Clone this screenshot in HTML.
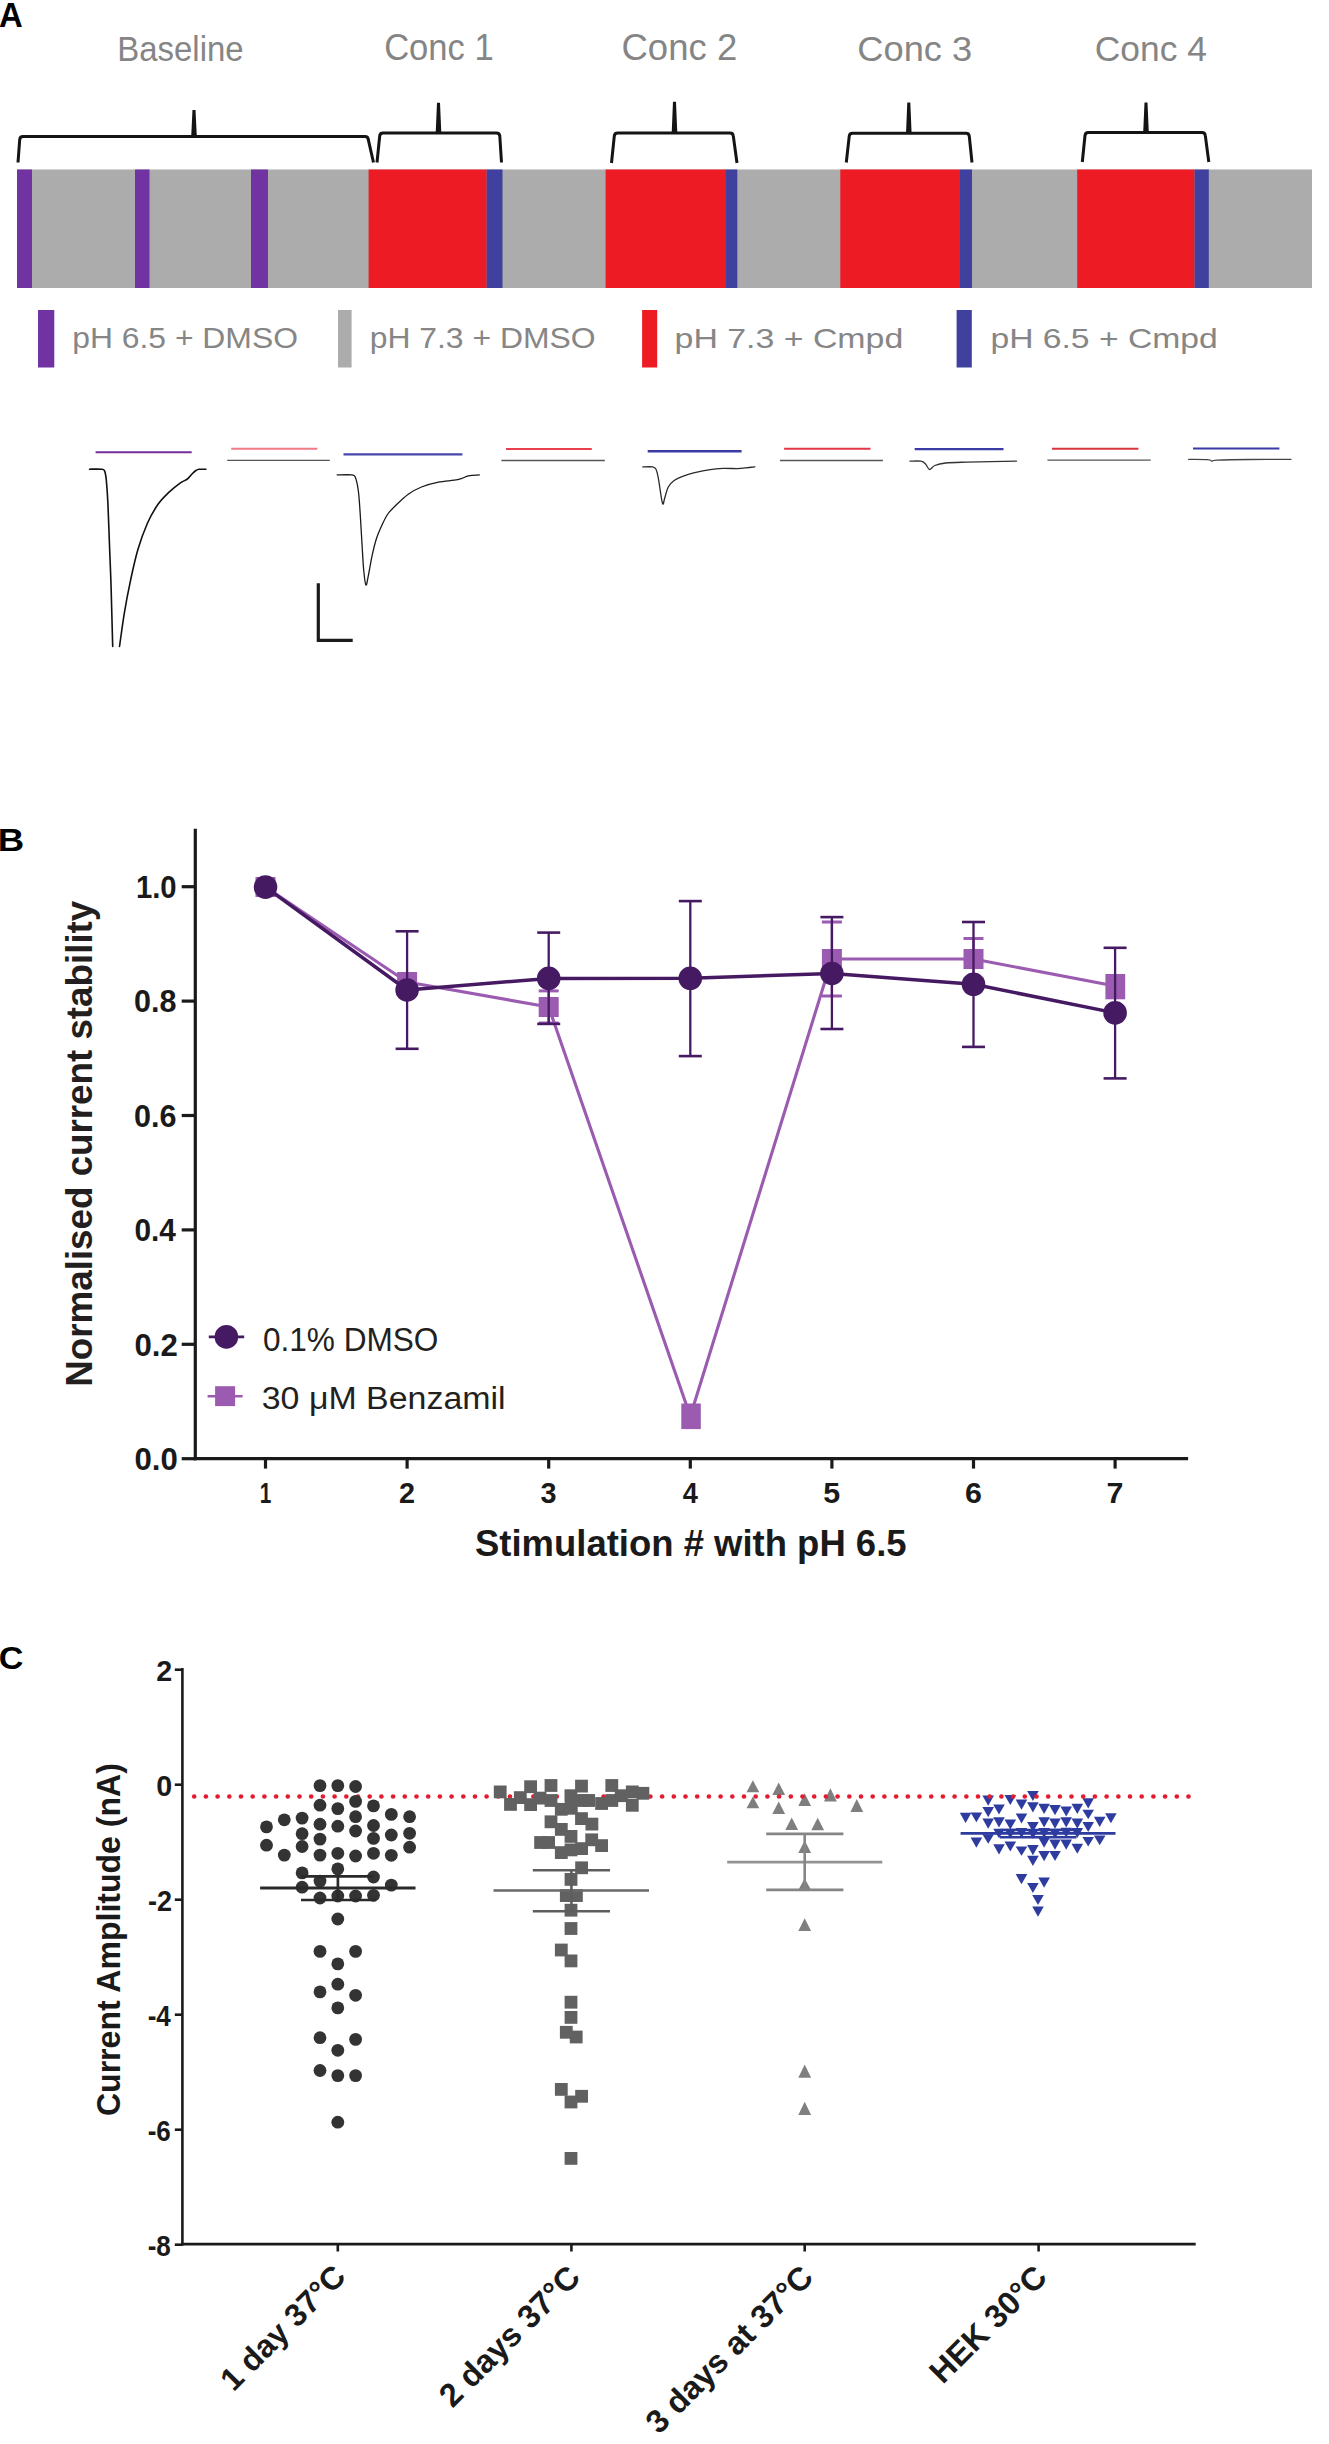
<!DOCTYPE html>
<html><head><meta charset="utf-8"><title>Figure</title>
<style>
html,body{margin:0;padding:0;background:#fff;}
body{width:1329px;height:2444px;overflow:hidden;font-family:"Liberation Sans", sans-serif;}
svg{display:block;font-family:"Liberation Sans", sans-serif;}
</style></head>
<body>
<svg width="1329" height="2444" viewBox="0 0 1329 2444">
<rect width="1329" height="2444" fill="#fff"/>
<path d="M18,162.5 L19.7,139.6 Q20,136.6 23,136.6 L365,136.6 Q368,136.6 368.3,139.6 L373.5,162.5" fill="none" stroke="#141414" stroke-width="3.0" stroke-linejoin="round"/>
<path d="M191.2,136.6 L192.5,110 L195.5,110 L196.8,136.6 Z" fill="#141414"/>
<path d="M377,162.5 L379.7,136 Q380,133 383,133 L496.5,133 Q499.5,133 499.8,136 L501.5,162.5" fill="none" stroke="#141414" stroke-width="3.0" stroke-linejoin="round"/>
<path d="M435.7,133 L437.0,102.8 L440.0,102.8 L441.3,133 Z" fill="#141414"/>
<path d="M611.5,163 L614.3000000000001,136 Q614.6,133 617.6,133 L730,133 Q733,133 733.3,136 L737,163" fill="none" stroke="#141414" stroke-width="3.0" stroke-linejoin="round"/>
<path d="M671.7,133 L673.0,101.8 L676.0,101.8 L677.3,133 Z" fill="#141414"/>
<path d="M846.3,162.5 L849.2,136.3 Q849.5,133.3 852.5,133.3 L966,133.3 Q969,133.3 969.3,136.3 L972,162.5" fill="none" stroke="#141414" stroke-width="3.0" stroke-linejoin="round"/>
<path d="M906.0,133.3 L907.3,102.5 L910.3,102.5 L911.5999999999999,133.3 Z" fill="#141414"/>
<path d="M1082.3,162 L1085.0,135.5 Q1085.3,132.5 1088.3,132.5 L1202,132.5 Q1205,132.5 1205.3,135.5 L1208.8,162" fill="none" stroke="#141414" stroke-width="3.0" stroke-linejoin="round"/>
<path d="M1143.2,132.5 L1144.5,102.5 L1147.5,102.5 L1148.8,132.5 Z" fill="#141414"/>
<rect x="17.0" y="169.5" width="1295.0" height="118.5" fill="#acacac"/>
<rect x="17.0" y="169.5" width="15.0" height="118.5" fill="#7233a2"/>
<rect x="135.0" y="169.5" width="14.5" height="118.5" fill="#7233a2"/>
<rect x="251.0" y="169.5" width="17.0" height="118.5" fill="#7233a2"/>
<rect x="368.6" y="169.5" width="118.1" height="118.5" fill="#ed1c24"/>
<rect x="486.7" y="169.5" width="15.8" height="118.5" fill="#40409f"/>
<rect x="605.6" y="169.5" width="119.6" height="118.5" fill="#ed1c24"/>
<rect x="725.2" y="169.5" width="12.1" height="118.5" fill="#40409f"/>
<rect x="840.3" y="169.5" width="118.9" height="118.5" fill="#ed1c24"/>
<rect x="959.2" y="169.5" width="12.8" height="118.5" fill="#40409f"/>
<rect x="1077.2" y="169.5" width="117.4" height="118.5" fill="#ed1c24"/>
<rect x="1194.6" y="169.5" width="14.2" height="118.5" fill="#40409f"/>
<rect x="38.0" y="310.0" width="16.3" height="57.5" fill="#7233a2"/>
<rect x="338.0" y="310.0" width="13.6" height="57.5" fill="#acacac"/>
<rect x="642.1" y="310.0" width="15.1" height="57.5" fill="#ed1c24"/>
<rect x="956.6" y="310.0" width="15.2" height="57.5" fill="#40409f"/>
<line x1="95.6" y1="452.3" x2="191.7" y2="452.3" stroke="#742da0" stroke-width="2.0" stroke-linecap="butt"/>
<line x1="231.2" y1="448.8" x2="317.3" y2="448.8" stroke="#f07a86" stroke-width="2.0" stroke-linecap="butt"/>
<line x1="227.2" y1="460.4" x2="329.8" y2="460.4" stroke="#555" stroke-width="1.3" stroke-linecap="butt"/>
<line x1="343.5" y1="454.4" x2="462.4" y2="454.4" stroke="#4646aa" stroke-width="2.4" stroke-linecap="butt"/>
<line x1="506.0" y1="449.1" x2="591.8" y2="449.1" stroke="#e8414d" stroke-width="2.0" stroke-linecap="butt"/>
<line x1="501.4" y1="460.5" x2="604.8" y2="460.5" stroke="#555" stroke-width="1.3" stroke-linecap="butt"/>
<line x1="647.7" y1="451.2" x2="741.6" y2="451.2" stroke="#3a3aa5" stroke-width="2.4" stroke-linecap="butt"/>
<line x1="784.1" y1="448.8" x2="870.5" y2="448.8" stroke="#e33545" stroke-width="2.0" stroke-linecap="butt"/>
<line x1="780.0" y1="460.5" x2="882.9" y2="460.5" stroke="#555" stroke-width="1.3" stroke-linecap="butt"/>
<line x1="914.7" y1="449.1" x2="1003.5" y2="449.1" stroke="#3a3aa5" stroke-width="2.2" stroke-linecap="butt"/>
<line x1="1052.0" y1="448.8" x2="1138.4" y2="448.8" stroke="#d8343f" stroke-width="2.0" stroke-linecap="butt"/>
<line x1="1047.4" y1="460.2" x2="1150.7" y2="460.2" stroke="#555" stroke-width="1.3" stroke-linecap="butt"/>
<line x1="1193.0" y1="448.5" x2="1279.4" y2="448.5" stroke="#3a3aa5" stroke-width="2.2" stroke-linecap="butt"/>
<path d="M89.5,469.2 C91.6,469.2 99.5,468.9 102.1,469.3 C104.6,469.7 104.1,469.8 104.8,471.6 C105.5,473.4 105.8,474.7 106.3,480.0 C106.8,485.3 107.4,492.3 107.9,503.2 C108.4,514.1 109.0,531.2 109.5,545.3 C110.0,559.3 110.6,570.6 111.1,587.5 C111.6,604.4 112.4,636.7 112.7,646.5" fill="none" stroke="#111" stroke-width="1.6" stroke-linejoin="round" stroke-linecap="round"/>
<path d="M119.5,646.5 C120.3,641.0 122.4,624.9 124.2,613.8 C126.0,602.7 128.3,590.8 130.6,580.1 C132.9,569.4 135.1,559.1 137.9,549.6 C140.7,540.1 144.1,530.8 147.4,523.2 C150.8,515.7 154.5,509.4 158.0,504.3 C161.5,499.2 164.8,496.2 168.5,492.7 C172.2,489.2 176.9,485.5 180.1,483.2 C183.2,480.9 185.4,480.5 187.4,479.0 C189.4,477.5 190.6,475.4 192.0,474.0 C193.4,472.6 194.7,471.3 195.9,470.5 C197.1,469.7 197.3,469.5 199.0,469.3 C200.7,469.1 204.8,469.2 205.9,469.2" fill="none" stroke="#111" stroke-width="1.6" stroke-linejoin="round" stroke-linecap="round"/>
<path d="M337.2,474.9 C339.6,474.9 348.7,474.5 351.7,474.9 C354.7,475.3 354.2,474.7 355.3,477.3 C356.4,479.9 357.5,484.8 358.3,490.6 C359.1,496.4 359.5,503.6 360.1,512.2 C360.7,520.8 361.3,532.7 361.9,542.3 C362.5,551.9 363.0,562.9 363.7,570.0 C364.4,577.1 365.1,584.3 365.9,585.1 C366.7,585.9 367.5,579.7 368.5,574.8 C369.5,569.9 370.8,561.6 372.1,555.6 C373.4,549.6 374.8,543.7 376.4,538.7 C378.0,533.7 379.9,529.6 381.8,525.5 C383.7,521.4 385.4,517.4 387.8,514.0 C390.2,510.6 392.8,508.3 396.2,505.0 C399.6,501.7 404.1,497.2 408.3,494.2 C412.5,491.2 416.5,489.0 421.5,487.0 C426.5,485.0 432.4,483.3 438.4,482.1 C444.4,480.9 452.6,480.7 457.6,479.7 C462.6,478.7 464.9,476.7 468.5,475.9 C472.1,475.1 477.5,475.1 479.3,474.9" fill="none" stroke="#1a1a1a" stroke-width="1.3" stroke-linejoin="round" stroke-linecap="round"/>
<path d="M642.8,466.9 C644.4,466.9 650.4,466.5 652.6,466.9 C654.8,467.3 655.0,467.3 656.0,469.3 C657.0,471.3 657.7,474.9 658.5,479.1 C659.3,483.4 660.2,490.6 660.9,494.8 C661.6,499.0 662.2,503.6 662.9,504.1 C663.5,504.6 663.9,500.6 664.8,497.7 C665.7,494.8 666.8,489.9 668.3,487.0 C669.8,484.1 671.8,482.3 674.1,480.6 C676.4,478.9 678.7,478.0 682.0,476.7 C685.3,475.4 689.3,473.9 693.7,472.8 C698.1,471.7 703.5,470.5 708.4,469.8 C713.3,469.1 718.1,468.6 723.0,468.4 C727.9,468.2 734.0,468.7 737.7,468.6 C741.5,468.5 742.6,468.2 745.5,467.9 C748.4,467.6 753.2,467.1 754.8,466.9" fill="none" stroke="#2a2a2a" stroke-width="1.3" stroke-linejoin="round" stroke-linecap="round"/>
<path d="M910.0,461.2 C911.8,461.2 918.3,460.7 920.9,461.2 C923.5,461.7 924.1,462.6 925.5,464.0 C926.9,465.4 928.0,469.2 929.5,469.5 C931.0,469.8 932.1,466.6 934.8,465.5 C937.5,464.4 940.2,463.6 945.6,463.0 C951.0,462.4 955.4,462.4 967.2,462.1 C979.0,461.8 1008.3,461.4 1016.5,461.2" fill="none" stroke="#333" stroke-width="1.3" stroke-linejoin="round" stroke-linecap="round"/>
<path d="M1188.6,459.3 C1191.8,459.4 1203.9,459.3 1207.8,459.6 C1211.7,459.9 1210.4,461.1 1211.9,461.2 C1213.4,461.3 1210.7,460.5 1217.0,460.2 C1223.3,459.9 1237.7,459.6 1250.0,459.5 C1262.3,459.4 1284.2,459.3 1291.0,459.3" fill="none" stroke="#444" stroke-width="1.3" stroke-linejoin="round" stroke-linecap="round"/>
<path d="M318.3,583.2 L318.3,640.3 L352.7,640.3" fill="none" stroke="#1a1a1a" stroke-width="3.2"/>
<line x1="195.3" y1="828.7" x2="195.3" y2="1460.3" stroke="#1a1a1a" stroke-width="3.2" stroke-linecap="butt"/>
<line x1="193.7" y1="1458.7" x2="1188.1" y2="1458.7" stroke="#1a1a1a" stroke-width="3.2" stroke-linecap="butt"/>
<line x1="181.7" y1="1458.7" x2="195.3" y2="1458.7" stroke="#1a1a1a" stroke-width="3.2" stroke-linecap="butt"/>
<line x1="181.7" y1="1344.3" x2="195.3" y2="1344.3" stroke="#1a1a1a" stroke-width="3.2" stroke-linecap="butt"/>
<line x1="181.7" y1="1229.9" x2="195.3" y2="1229.9" stroke="#1a1a1a" stroke-width="3.2" stroke-linecap="butt"/>
<line x1="181.7" y1="1115.5" x2="195.3" y2="1115.5" stroke="#1a1a1a" stroke-width="3.2" stroke-linecap="butt"/>
<line x1="181.7" y1="1001.1" x2="195.3" y2="1001.1" stroke="#1a1a1a" stroke-width="3.2" stroke-linecap="butt"/>
<line x1="181.7" y1="886.7" x2="195.3" y2="886.7" stroke="#1a1a1a" stroke-width="3.2" stroke-linecap="butt"/>
<line x1="265.5" y1="1458.7" x2="265.5" y2="1468.6" stroke="#1a1a1a" stroke-width="3.2" stroke-linecap="butt"/>
<line x1="407.1" y1="1458.7" x2="407.1" y2="1468.6" stroke="#1a1a1a" stroke-width="3.2" stroke-linecap="butt"/>
<line x1="548.7" y1="1458.7" x2="548.7" y2="1468.6" stroke="#1a1a1a" stroke-width="3.2" stroke-linecap="butt"/>
<line x1="690.3" y1="1458.7" x2="690.3" y2="1468.6" stroke="#1a1a1a" stroke-width="3.2" stroke-linecap="butt"/>
<line x1="831.9" y1="1458.7" x2="831.9" y2="1468.6" stroke="#1a1a1a" stroke-width="3.2" stroke-linecap="butt"/>
<line x1="973.5" y1="1458.7" x2="973.5" y2="1468.6" stroke="#1a1a1a" stroke-width="3.2" stroke-linecap="butt"/>
<line x1="1115.1" y1="1458.7" x2="1115.1" y2="1468.6" stroke="#1a1a1a" stroke-width="3.2" stroke-linecap="butt"/>
<path d="M265.5,887.0 L407.1,982.0 L548.7,1007.0 L690.3,1416.3 L831.9,959.0 L973.5,959.0 L1115.1,986.0" fill="none" stroke="#9b5bb0" stroke-width="3.1" stroke-linejoin="round" stroke-linecap="round"/>
<line x1="548.7" y1="990.9" x2="548.7" y2="1023.0" stroke="#9b5bb0" stroke-width="2.4" stroke-linecap="butt"/>
<line x1="538.7" y1="990.9" x2="558.7" y2="990.9" stroke="#9b5bb0" stroke-width="3" stroke-linecap="butt"/>
<line x1="538.7" y1="1023.0" x2="558.7" y2="1023.0" stroke="#9b5bb0" stroke-width="3" stroke-linecap="butt"/>
<line x1="831.9" y1="922.0" x2="831.9" y2="996.0" stroke="#9b5bb0" stroke-width="2.4" stroke-linecap="butt"/>
<line x1="821.9" y1="922.0" x2="841.9" y2="922.0" stroke="#9b5bb0" stroke-width="3" stroke-linecap="butt"/>
<line x1="821.9" y1="996.0" x2="841.9" y2="996.0" stroke="#9b5bb0" stroke-width="3" stroke-linecap="butt"/>
<line x1="973.5" y1="938.5" x2="973.5" y2="979.0" stroke="#9b5bb0" stroke-width="2.4" stroke-linecap="butt"/>
<line x1="963.5" y1="938.5" x2="983.5" y2="938.5" stroke="#9b5bb0" stroke-width="3" stroke-linecap="butt"/>
<line x1="963.5" y1="979.0" x2="983.5" y2="979.0" stroke="#9b5bb0" stroke-width="3" stroke-linecap="butt"/>
<rect x="255.5" y="877.0" width="20.0" height="20.0" fill="#9b5bb0"/>
<rect x="397.1" y="972.0" width="20.0" height="20.0" fill="#9b5bb0"/>
<rect x="538.7" y="997.0" width="20.0" height="20.0" fill="#9b5bb0"/>
<rect x="681.3" y="1403.5" width="19.5" height="25.6" fill="#9b5bb0"/>
<rect x="821.9" y="949.0" width="20.0" height="20.0" fill="#9b5bb0"/>
<rect x="963.5" y="949.0" width="20.0" height="20.0" fill="#9b5bb0"/>
<rect x="1105.4" y="974.0" width="19.8" height="25.3" fill="#9b5bb0"/>
<path d="M265.5,887.1 L407.1,990.0 L548.7,978.4 L690.3,978.3 L831.9,973.5 L973.5,984.3 L1115.1,1012.9" fill="none" stroke="#461a63" stroke-width="3.5" stroke-linejoin="round" stroke-linecap="round"/>
<line x1="407.1" y1="931.3" x2="407.1" y2="1048.8" stroke="#461a63" stroke-width="2.3" stroke-linecap="butt"/>
<line x1="395.6" y1="931.3" x2="418.6" y2="931.3" stroke="#461a63" stroke-width="2.6" stroke-linecap="butt"/>
<line x1="395.6" y1="1048.8" x2="418.6" y2="1048.8" stroke="#461a63" stroke-width="2.6" stroke-linecap="butt"/>
<line x1="548.7" y1="932.6" x2="548.7" y2="1023.9" stroke="#461a63" stroke-width="2.3" stroke-linecap="butt"/>
<line x1="537.2" y1="932.6" x2="560.2" y2="932.6" stroke="#461a63" stroke-width="2.6" stroke-linecap="butt"/>
<line x1="537.2" y1="1023.9" x2="560.2" y2="1023.9" stroke="#461a63" stroke-width="2.6" stroke-linecap="butt"/>
<line x1="690.3" y1="901.1" x2="690.3" y2="1056.1" stroke="#461a63" stroke-width="2.3" stroke-linecap="butt"/>
<line x1="678.8" y1="901.1" x2="701.8" y2="901.1" stroke="#461a63" stroke-width="2.6" stroke-linecap="butt"/>
<line x1="678.8" y1="1056.1" x2="701.8" y2="1056.1" stroke="#461a63" stroke-width="2.6" stroke-linecap="butt"/>
<line x1="831.9" y1="917.1" x2="831.9" y2="1029.0" stroke="#461a63" stroke-width="2.3" stroke-linecap="butt"/>
<line x1="820.4" y1="917.1" x2="843.4" y2="917.1" stroke="#461a63" stroke-width="2.6" stroke-linecap="butt"/>
<line x1="820.4" y1="1029.0" x2="843.4" y2="1029.0" stroke="#461a63" stroke-width="2.6" stroke-linecap="butt"/>
<line x1="973.5" y1="922.0" x2="973.5" y2="1046.9" stroke="#461a63" stroke-width="2.3" stroke-linecap="butt"/>
<line x1="962.0" y1="922.0" x2="985.0" y2="922.0" stroke="#461a63" stroke-width="2.6" stroke-linecap="butt"/>
<line x1="962.0" y1="1046.9" x2="985.0" y2="1046.9" stroke="#461a63" stroke-width="2.6" stroke-linecap="butt"/>
<line x1="1115.1" y1="947.8" x2="1115.1" y2="1078.4" stroke="#461a63" stroke-width="2.3" stroke-linecap="butt"/>
<line x1="1103.6" y1="947.8" x2="1126.6" y2="947.8" stroke="#461a63" stroke-width="2.6" stroke-linecap="butt"/>
<line x1="1103.6" y1="1078.4" x2="1126.6" y2="1078.4" stroke="#461a63" stroke-width="2.6" stroke-linecap="butt"/>
<circle cx="265.5" cy="887.1" r="11.8" fill="#461a63"/>
<circle cx="407.1" cy="990.0" r="11.8" fill="#461a63"/>
<circle cx="548.7" cy="978.4" r="11.8" fill="#461a63"/>
<circle cx="690.3" cy="978.3" r="11.8" fill="#461a63"/>
<circle cx="831.9" cy="973.5" r="11.8" fill="#461a63"/>
<circle cx="973.5" cy="984.3" r="11.8" fill="#461a63"/>
<circle cx="1115.1" cy="1012.9" r="11.8" fill="#461a63"/>
<line x1="208.8" y1="1336.9" x2="244.2" y2="1336.9" stroke="#461a63" stroke-width="2.6" stroke-linecap="butt"/>
<circle cx="226.4" cy="1336.9" r="11.8" fill="#461a63"/>
<line x1="207.6" y1="1396.2" x2="242.6" y2="1396.2" stroke="#9b5bb0" stroke-width="2.6" stroke-linecap="butt"/>
<rect x="215.1" y="1386.2" width="20.0" height="19.9" fill="#9b5bb0"/>
<line x1="182.4" y1="1668.0" x2="182.4" y2="2245.4" stroke="#1a1a1a" stroke-width="2.6" stroke-linecap="butt"/>
<line x1="181.1" y1="2244.1" x2="1195.7" y2="2244.1" stroke="#1a1a1a" stroke-width="2.6" stroke-linecap="butt"/>
<line x1="174.8" y1="1669.7" x2="182.4" y2="1669.7" stroke="#1a1a1a" stroke-width="2.6" stroke-linecap="butt"/>
<line x1="174.8" y1="1784.7" x2="182.4" y2="1784.7" stroke="#1a1a1a" stroke-width="2.6" stroke-linecap="butt"/>
<line x1="174.8" y1="1899.7" x2="182.4" y2="1899.7" stroke="#1a1a1a" stroke-width="2.6" stroke-linecap="butt"/>
<line x1="174.8" y1="2014.7" x2="182.4" y2="2014.7" stroke="#1a1a1a" stroke-width="2.6" stroke-linecap="butt"/>
<line x1="174.8" y1="2129.7" x2="182.4" y2="2129.7" stroke="#1a1a1a" stroke-width="2.6" stroke-linecap="butt"/>
<line x1="174.8" y1="2244.7" x2="182.4" y2="2244.7" stroke="#1a1a1a" stroke-width="2.6" stroke-linecap="butt"/>
<line x1="337.8" y1="2244.1" x2="337.8" y2="2251.5" stroke="#1a1a1a" stroke-width="2.6" stroke-linecap="butt"/>
<line x1="571.4" y1="2244.1" x2="571.4" y2="2251.5" stroke="#1a1a1a" stroke-width="2.6" stroke-linecap="butt"/>
<line x1="804.7" y1="2244.1" x2="804.7" y2="2251.5" stroke="#1a1a1a" stroke-width="2.6" stroke-linecap="butt"/>
<line x1="1038.6" y1="2244.1" x2="1038.6" y2="2251.5" stroke="#1a1a1a" stroke-width="2.6" stroke-linecap="butt"/>
<circle cx="194.2" cy="1796.5" r="2.3" fill="#e41b2f"/>
<circle cx="205.9" cy="1796.5" r="2.3" fill="#e41b2f"/>
<circle cx="217.6" cy="1796.5" r="2.3" fill="#e41b2f"/>
<circle cx="229.3" cy="1796.5" r="2.3" fill="#e41b2f"/>
<circle cx="241.0" cy="1796.5" r="2.3" fill="#e41b2f"/>
<circle cx="252.7" cy="1796.5" r="2.3" fill="#e41b2f"/>
<circle cx="264.4" cy="1796.5" r="2.3" fill="#e41b2f"/>
<circle cx="276.1" cy="1796.5" r="2.3" fill="#e41b2f"/>
<circle cx="287.8" cy="1796.5" r="2.3" fill="#e41b2f"/>
<circle cx="299.5" cy="1796.5" r="2.3" fill="#e41b2f"/>
<circle cx="311.2" cy="1796.5" r="2.3" fill="#e41b2f"/>
<circle cx="322.9" cy="1796.5" r="2.3" fill="#e41b2f"/>
<circle cx="334.6" cy="1796.5" r="2.3" fill="#e41b2f"/>
<circle cx="346.3" cy="1796.5" r="2.3" fill="#e41b2f"/>
<circle cx="358.0" cy="1796.5" r="2.3" fill="#e41b2f"/>
<circle cx="369.7" cy="1796.5" r="2.3" fill="#e41b2f"/>
<circle cx="381.4" cy="1796.5" r="2.3" fill="#e41b2f"/>
<circle cx="393.1" cy="1796.5" r="2.3" fill="#e41b2f"/>
<circle cx="404.8" cy="1796.5" r="2.3" fill="#e41b2f"/>
<circle cx="416.5" cy="1796.5" r="2.3" fill="#e41b2f"/>
<circle cx="428.2" cy="1796.5" r="2.3" fill="#e41b2f"/>
<circle cx="439.9" cy="1796.5" r="2.3" fill="#e41b2f"/>
<circle cx="451.6" cy="1796.5" r="2.3" fill="#e41b2f"/>
<circle cx="463.3" cy="1796.5" r="2.3" fill="#e41b2f"/>
<circle cx="475.0" cy="1796.5" r="2.3" fill="#e41b2f"/>
<circle cx="486.6" cy="1796.5" r="2.3" fill="#e41b2f"/>
<circle cx="498.3" cy="1796.5" r="2.3" fill="#e41b2f"/>
<circle cx="510.0" cy="1796.5" r="2.3" fill="#e41b2f"/>
<circle cx="521.7" cy="1796.5" r="2.3" fill="#e41b2f"/>
<circle cx="533.4" cy="1796.5" r="2.3" fill="#e41b2f"/>
<circle cx="545.1" cy="1796.5" r="2.3" fill="#e41b2f"/>
<circle cx="556.8" cy="1796.5" r="2.3" fill="#e41b2f"/>
<circle cx="568.5" cy="1796.5" r="2.3" fill="#e41b2f"/>
<circle cx="580.2" cy="1796.5" r="2.3" fill="#e41b2f"/>
<circle cx="591.9" cy="1796.5" r="2.3" fill="#e41b2f"/>
<circle cx="603.6" cy="1796.5" r="2.3" fill="#e41b2f"/>
<circle cx="615.3" cy="1796.5" r="2.3" fill="#e41b2f"/>
<circle cx="627.0" cy="1796.5" r="2.3" fill="#e41b2f"/>
<circle cx="638.7" cy="1796.5" r="2.3" fill="#e41b2f"/>
<circle cx="650.4" cy="1796.5" r="2.3" fill="#e41b2f"/>
<circle cx="662.1" cy="1796.5" r="2.3" fill="#e41b2f"/>
<circle cx="673.8" cy="1796.5" r="2.3" fill="#e41b2f"/>
<circle cx="685.5" cy="1796.5" r="2.3" fill="#e41b2f"/>
<circle cx="266.5" cy="1826.9" r="6.4" fill="#333333"/>
<circle cx="266.5" cy="1845.2" r="6.4" fill="#333333"/>
<circle cx="284.3" cy="1819.8" r="6.4" fill="#333333"/>
<circle cx="284.3" cy="1855.1" r="6.4" fill="#333333"/>
<circle cx="302.1" cy="1818.1" r="6.4" fill="#333333"/>
<circle cx="302.1" cy="1833.7" r="6.4" fill="#333333"/>
<circle cx="302.1" cy="1846.5" r="6.4" fill="#333333"/>
<circle cx="302.1" cy="1872.9" r="6.4" fill="#333333"/>
<circle cx="302.1" cy="1887.2" r="6.4" fill="#333333"/>
<circle cx="320.0" cy="1785.6" r="6.4" fill="#333333"/>
<circle cx="320.0" cy="1805.2" r="6.4" fill="#333333"/>
<circle cx="320.0" cy="1824.2" r="6.4" fill="#333333"/>
<circle cx="320.0" cy="1839.1" r="6.4" fill="#333333"/>
<circle cx="320.0" cy="1855.1" r="6.4" fill="#333333"/>
<circle cx="320.0" cy="1881.1" r="6.4" fill="#333333"/>
<circle cx="320.0" cy="1898.0" r="6.4" fill="#333333"/>
<circle cx="320.0" cy="1951.4" r="6.4" fill="#333333"/>
<circle cx="320.0" cy="1991.9" r="6.4" fill="#333333"/>
<circle cx="320.0" cy="2037.7" r="6.4" fill="#333333"/>
<circle cx="320.0" cy="2070.5" r="6.4" fill="#333333"/>
<circle cx="337.8" cy="1785.6" r="6.4" fill="#333333"/>
<circle cx="337.8" cy="1808.6" r="6.4" fill="#333333"/>
<circle cx="337.8" cy="1826.2" r="6.4" fill="#333333"/>
<circle cx="337.8" cy="1853.3" r="6.4" fill="#333333"/>
<circle cx="337.8" cy="1868.9" r="6.4" fill="#333333"/>
<circle cx="337.8" cy="1896.0" r="6.4" fill="#333333"/>
<circle cx="337.8" cy="1919.0" r="6.4" fill="#333333"/>
<circle cx="337.8" cy="1963.9" r="6.4" fill="#333333"/>
<circle cx="337.8" cy="1984.2" r="6.4" fill="#333333"/>
<circle cx="337.8" cy="2007.9" r="6.4" fill="#333333"/>
<circle cx="337.8" cy="2050.3" r="6.4" fill="#333333"/>
<circle cx="337.8" cy="2075.6" r="6.4" fill="#333333"/>
<circle cx="337.8" cy="2122.2" r="6.4" fill="#333333"/>
<circle cx="355.6" cy="1786.5" r="6.4" fill="#333333"/>
<circle cx="355.6" cy="1801.4" r="6.4" fill="#333333"/>
<circle cx="355.6" cy="1816.7" r="6.4" fill="#333333"/>
<circle cx="355.6" cy="1831.0" r="6.4" fill="#333333"/>
<circle cx="355.6" cy="1856.0" r="6.4" fill="#333333"/>
<circle cx="355.6" cy="1896.0" r="6.4" fill="#333333"/>
<circle cx="355.6" cy="1951.4" r="6.4" fill="#333333"/>
<circle cx="355.6" cy="1995.3" r="6.4" fill="#333333"/>
<circle cx="355.6" cy="2039.4" r="6.4" fill="#333333"/>
<circle cx="355.6" cy="2075.6" r="6.4" fill="#333333"/>
<circle cx="373.5" cy="1805.9" r="6.4" fill="#333333"/>
<circle cx="373.5" cy="1825.5" r="6.4" fill="#333333"/>
<circle cx="373.5" cy="1838.4" r="6.4" fill="#333333"/>
<circle cx="373.5" cy="1853.3" r="6.4" fill="#333333"/>
<circle cx="373.5" cy="1877.0" r="6.4" fill="#333333"/>
<circle cx="373.5" cy="1895.3" r="6.4" fill="#333333"/>
<circle cx="391.3" cy="1814.4" r="6.4" fill="#333333"/>
<circle cx="391.3" cy="1835.0" r="6.4" fill="#333333"/>
<circle cx="391.3" cy="1855.3" r="6.4" fill="#333333"/>
<circle cx="391.3" cy="1885.1" r="6.4" fill="#333333"/>
<circle cx="409.6" cy="1816.7" r="6.4" fill="#333333"/>
<circle cx="409.6" cy="1833.3" r="6.4" fill="#333333"/>
<circle cx="409.6" cy="1847.2" r="6.4" fill="#333333"/>
<line x1="260.1" y1="1888.1" x2="415.5" y2="1888.1" stroke="#2a2a2a" stroke-width="3" stroke-linecap="butt"/>
<line x1="301.0" y1="1876.4" x2="374.0" y2="1876.4" stroke="#2a2a2a" stroke-width="2.7" stroke-linecap="butt"/>
<line x1="301.0" y1="1900.0" x2="376.0" y2="1900.0" stroke="#2a2a2a" stroke-width="2.7" stroke-linecap="butt"/>
<line x1="337.9" y1="1876.4" x2="337.9" y2="1900.0" stroke="#2a2a2a" stroke-width="2.7" stroke-linecap="butt"/>
<rect x="493.8" y="1785.5" width="12.8" height="12.8" fill="#616161"/>
<rect x="504.1" y="1798.0" width="12.8" height="12.8" fill="#616161"/>
<rect x="513.9" y="1791.2" width="12.8" height="12.8" fill="#616161"/>
<rect x="524.2" y="1780.3" width="12.8" height="12.8" fill="#616161"/>
<rect x="524.2" y="1798.2" width="12.8" height="12.8" fill="#616161"/>
<rect x="533.6" y="1791.7" width="12.8" height="12.8" fill="#616161"/>
<rect x="544.6" y="1779.1" width="12.8" height="12.8" fill="#616161"/>
<rect x="544.6" y="1794.1" width="12.8" height="12.8" fill="#616161"/>
<rect x="554.9" y="1802.9" width="12.8" height="12.8" fill="#616161"/>
<rect x="564.5" y="1789.3" width="12.8" height="12.8" fill="#616161"/>
<rect x="564.9" y="1801.9" width="12.8" height="12.8" fill="#616161"/>
<rect x="575.1" y="1779.7" width="12.8" height="12.8" fill="#616161"/>
<rect x="576.3" y="1794.1" width="12.8" height="12.8" fill="#616161"/>
<rect x="582.3" y="1794.1" width="12.8" height="12.8" fill="#616161"/>
<rect x="595.2" y="1797.1" width="12.8" height="12.8" fill="#616161"/>
<rect x="605.4" y="1779.1" width="12.8" height="12.8" fill="#616161"/>
<rect x="605.4" y="1794.1" width="12.8" height="12.8" fill="#616161"/>
<rect x="614.8" y="1789.3" width="12.8" height="12.8" fill="#616161"/>
<rect x="625.9" y="1785.5" width="12.8" height="12.8" fill="#616161"/>
<rect x="625.9" y="1798.9" width="12.8" height="12.8" fill="#616161"/>
<rect x="636.5" y="1786.9" width="12.8" height="12.8" fill="#616161"/>
<rect x="544.6" y="1815.4" width="12.8" height="12.8" fill="#616161"/>
<rect x="575.1" y="1812.2" width="12.8" height="12.8" fill="#616161"/>
<rect x="585.5" y="1817.7" width="12.8" height="12.8" fill="#616161"/>
<rect x="554.9" y="1823.0" width="12.8" height="12.8" fill="#616161"/>
<rect x="564.6" y="1830.0" width="12.8" height="12.8" fill="#616161"/>
<rect x="585.3" y="1833.4" width="12.8" height="12.8" fill="#616161"/>
<rect x="534.2" y="1836.1" width="12.8" height="12.8" fill="#616161"/>
<rect x="542.2" y="1836.1" width="12.8" height="12.8" fill="#616161"/>
<rect x="595.2" y="1839.2" width="12.8" height="12.8" fill="#616161"/>
<rect x="554.9" y="1846.2" width="12.8" height="12.8" fill="#616161"/>
<rect x="564.6" y="1843.5" width="12.8" height="12.8" fill="#616161"/>
<rect x="575.2" y="1842.2" width="12.8" height="12.8" fill="#616161"/>
<rect x="575.2" y="1861.4" width="12.8" height="12.8" fill="#616161"/>
<rect x="564.6" y="1873.0" width="12.8" height="12.8" fill="#616161"/>
<rect x="559.9" y="1889.2" width="12.8" height="12.8" fill="#616161"/>
<rect x="570.0" y="1889.2" width="12.8" height="12.8" fill="#616161"/>
<rect x="564.6" y="1903.8" width="12.8" height="12.8" fill="#616161"/>
<rect x="564.6" y="1922.1" width="12.8" height="12.8" fill="#616161"/>
<rect x="554.9" y="1943.6" width="12.8" height="12.8" fill="#616161"/>
<rect x="564.6" y="1954.5" width="12.8" height="12.8" fill="#616161"/>
<rect x="564.6" y="1995.8" width="12.8" height="12.8" fill="#616161"/>
<rect x="564.6" y="2011.0" width="12.8" height="12.8" fill="#616161"/>
<rect x="559.9" y="2025.9" width="12.8" height="12.8" fill="#616161"/>
<rect x="569.8" y="2030.6" width="12.8" height="12.8" fill="#616161"/>
<rect x="554.9" y="2083.0" width="12.8" height="12.8" fill="#616161"/>
<rect x="575.2" y="2089.9" width="12.8" height="12.8" fill="#616161"/>
<rect x="564.6" y="2095.6" width="12.8" height="12.8" fill="#616161"/>
<rect x="564.6" y="2152.0" width="12.8" height="12.8" fill="#616161"/>
<line x1="493.5" y1="1890.5" x2="649.0" y2="1890.5" stroke="#6a6a6a" stroke-width="2.6" stroke-linecap="butt"/>
<line x1="532.8" y1="1870.2" x2="610.0" y2="1870.2" stroke="#5e5e5e" stroke-width="2.6" stroke-linecap="butt"/>
<line x1="532.8" y1="1911.3" x2="610.0" y2="1911.3" stroke="#5e5e5e" stroke-width="2.6" stroke-linecap="butt"/>
<line x1="571.4" y1="1870.2" x2="571.4" y2="1911.3" stroke="#5e5e5e" stroke-width="2.6" stroke-linecap="butt"/>
<path d="M752.9,1780.2 L759.3,1792.3 L746.5,1792.3 Z" fill="#7f7f7f"/>
<path d="M778.7,1782.5 L785.1,1795.0 L772.3,1795.0 Z" fill="#7f7f7f"/>
<path d="M752.9,1796.4 L759.3,1808.2 L746.5,1808.2 Z" fill="#7f7f7f"/>
<path d="M778.7,1801.4 L785.1,1814.0 L772.3,1814.0 Z" fill="#7f7f7f"/>
<path d="M804.7,1793.3 L811.1,1805.9 L798.3,1805.9 Z" fill="#7f7f7f"/>
<path d="M830.4,1788.3 L836.8,1801.4 L824.0,1801.4 Z" fill="#7f7f7f"/>
<path d="M856.8,1799.1 L863.2,1812.0 L850.4,1812.0 Z" fill="#7f7f7f"/>
<path d="M791.7,1817.4 L798.1,1830.0 L785.3,1830.0 Z" fill="#7f7f7f"/>
<path d="M817.7,1817.7 L824.1,1830.3 L811.3,1830.3 Z" fill="#7f7f7f"/>
<path d="M804.7,1840.4 L811.1,1852.9 L798.3,1852.9 Z" fill="#7f7f7f"/>
<path d="M804.7,1878.4 L811.1,1889.9 L798.3,1889.9 Z" fill="#7f7f7f"/>
<path d="M804.7,1918.3 L811.1,1930.9 L798.3,1930.9 Z" fill="#7f7f7f"/>
<path d="M804.7,2064.5 L811.1,2077.7 L798.3,2077.7 Z" fill="#7f7f7f"/>
<path d="M804.7,2101.7 L811.1,2114.9 L798.3,2114.9 Z" fill="#7f7f7f"/>
<line x1="727.2" y1="1862.1" x2="882.3" y2="1862.1" stroke="#939393" stroke-width="2.6" stroke-linecap="butt"/>
<line x1="766.2" y1="1833.9" x2="843.4" y2="1833.9" stroke="#858585" stroke-width="2.6" stroke-linecap="butt"/>
<line x1="766.2" y1="1889.9" x2="843.4" y2="1889.9" stroke="#858585" stroke-width="2.6" stroke-linecap="butt"/>
<line x1="804.7" y1="1833.9" x2="804.7" y2="1889.9" stroke="#858585" stroke-width="2.6" stroke-linecap="butt"/>
<path d="M1027.1,1791.1 L1038.7,1791.1 L1032.9,1801.0 Z" fill="#2e3b9f"/>
<path d="M982.4,1795.6 L994.0,1795.6 L988.2,1805.7 Z" fill="#2e3b9f"/>
<path d="M1004.5,1794.9 L1016.1,1794.9 L1010.3,1805.1 Z" fill="#2e3b9f"/>
<path d="M1015.7,1799.6 L1027.3,1799.6 L1021.5,1809.8 Z" fill="#2e3b9f"/>
<path d="M1082.4,1798.3 L1094.0,1798.3 L1088.2,1808.4 Z" fill="#2e3b9f"/>
<path d="M1027.1,1802.3 L1038.7,1802.3 L1032.9,1812.5 Z" fill="#2e3b9f"/>
<path d="M993.2,1804.4 L1004.8,1804.4 L999.0,1814.5 Z" fill="#2e3b9f"/>
<path d="M1038.3,1803.7 L1049.9,1803.7 L1044.1,1813.9 Z" fill="#2e3b9f"/>
<path d="M1049.2,1805.1 L1060.8,1805.1 L1055.0,1815.2 Z" fill="#2e3b9f"/>
<path d="M1060.4,1806.4 L1072.0,1806.4 L1066.2,1816.6 Z" fill="#2e3b9f"/>
<path d="M1071.5,1803.7 L1083.1,1803.7 L1077.3,1813.9 Z" fill="#2e3b9f"/>
<path d="M982.4,1807.1 L994.0,1807.1 L988.2,1817.2 Z" fill="#2e3b9f"/>
<path d="M1082.4,1809.8 L1094.0,1809.8 L1088.2,1819.3 Z" fill="#2e3b9f"/>
<path d="M959.8,1812.8 L971.4,1812.8 L965.6,1823.1 Z" fill="#2e3b9f"/>
<path d="M970.6,1812.5 L982.2,1812.5 L976.4,1822.3 Z" fill="#2e3b9f"/>
<path d="M1015.7,1813.6 L1027.3,1813.6 L1021.5,1823.6 Z" fill="#2e3b9f"/>
<path d="M1105.1,1813.2 L1116.7,1813.2 L1110.9,1823.3 Z" fill="#2e3b9f"/>
<path d="M982.4,1818.6 L994.0,1818.6 L988.2,1828.8 Z" fill="#2e3b9f"/>
<path d="M993.2,1817.2 L1004.8,1817.2 L999.0,1827.4 Z" fill="#2e3b9f"/>
<path d="M1038.3,1817.2 L1049.9,1817.2 L1044.1,1827.4 Z" fill="#2e3b9f"/>
<path d="M1049.2,1818.6 L1060.8,1818.6 L1055.0,1828.8 Z" fill="#2e3b9f"/>
<path d="M1060.4,1817.2 L1072.0,1817.2 L1066.2,1827.4 Z" fill="#2e3b9f"/>
<path d="M1071.5,1818.6 L1083.1,1818.6 L1077.3,1828.8 Z" fill="#2e3b9f"/>
<path d="M1093.9,1816.8 L1105.5,1816.8 L1099.7,1827.1 Z" fill="#2e3b9f"/>
<path d="M1004.5,1819.6 L1016.1,1819.6 L1010.3,1829.4 Z" fill="#2e3b9f"/>
<path d="M1027.1,1822.0 L1038.7,1822.0 L1032.9,1832.1 Z" fill="#2e3b9f"/>
<path d="M1082.4,1822.0 L1094.0,1822.0 L1088.2,1832.1 Z" fill="#2e3b9f"/>
<path d="M970.6,1837.6 L982.2,1837.6 L976.4,1847.7 Z" fill="#2e3b9f"/>
<path d="M982.4,1834.2 L994.0,1834.2 L988.2,1843.7 Z" fill="#2e3b9f"/>
<path d="M1082.4,1836.9 L1094.0,1836.9 L1088.2,1846.6 Z" fill="#2e3b9f"/>
<path d="M1093.9,1835.5 L1105.5,1835.5 L1099.7,1845.3 Z" fill="#2e3b9f"/>
<path d="M1004.5,1841.6 L1016.1,1841.6 L1010.3,1851.5 Z" fill="#2e3b9f"/>
<path d="M993.2,1844.3 L1004.8,1844.3 L999.0,1854.5 Z" fill="#2e3b9f"/>
<path d="M1015.7,1846.4 L1027.3,1846.4 L1021.5,1855.8 Z" fill="#2e3b9f"/>
<path d="M1027.1,1845.0 L1038.7,1845.0 L1032.9,1855.2 Z" fill="#2e3b9f"/>
<path d="M1038.3,1837.6 L1049.9,1837.6 L1044.1,1847.7 Z" fill="#2e3b9f"/>
<path d="M1049.2,1839.6 L1060.8,1839.6 L1055.0,1849.8 Z" fill="#2e3b9f"/>
<path d="M1060.4,1839.6 L1072.0,1839.6 L1066.2,1849.8 Z" fill="#2e3b9f"/>
<path d="M1071.5,1843.7 L1083.1,1843.7 L1077.3,1853.8 Z" fill="#2e3b9f"/>
<path d="M1038.3,1851.1 L1049.9,1851.1 L1044.1,1861.3 Z" fill="#2e3b9f"/>
<path d="M1049.2,1851.1 L1060.8,1851.1 L1055.0,1861.0 Z" fill="#2e3b9f"/>
<path d="M1027.1,1855.8 L1038.7,1855.8 L1032.9,1866.0 Z" fill="#2e3b9f"/>
<path d="M1015.7,1874.1 L1027.3,1874.1 L1021.5,1884.3 Z" fill="#2e3b9f"/>
<path d="M1038.3,1877.5 L1049.9,1877.5 L1044.1,1887.7 Z" fill="#2e3b9f"/>
<path d="M1027.1,1882.9 L1038.7,1882.9 L1032.9,1893.1 Z" fill="#2e3b9f"/>
<path d="M1032.2,1894.9 L1043.8,1894.9 L1038.0,1904.9 Z" fill="#2e3b9f"/>
<path d="M1032.2,1906.6 L1043.8,1906.6 L1038.0,1916.8 Z" fill="#2e3b9f"/>
<path d="M1004.5,1828.8 L1016.1,1828.8 L1010.3,1838.5 Z" fill="#2e3b9f"/>
<path d="M1015.7,1828.1 L1027.3,1828.1 L1021.5,1838.0 Z" fill="#2e3b9f"/>
<path d="M1027.1,1829.0 L1038.7,1829.0 L1032.9,1838.9 Z" fill="#2e3b9f"/>
<path d="M1038.3,1828.1 L1049.9,1828.1 L1044.1,1838.0 Z" fill="#2e3b9f"/>
<path d="M1049.2,1828.8 L1060.8,1828.8 L1055.0,1838.5 Z" fill="#2e3b9f"/>
<path d="M1060.4,1827.7 L1072.0,1827.7 L1066.2,1837.6 Z" fill="#2e3b9f"/>
<path d="M993.2,1828.8 L1004.8,1828.8 L999.0,1838.2 Z" fill="#2e3b9f"/>
<path d="M1071.5,1828.1 L1083.1,1828.1 L1077.3,1838.0 Z" fill="#2e3b9f"/>
<line x1="960.6" y1="1833.4" x2="1115.5" y2="1833.4" stroke="#2e3b9f" stroke-width="2.6" stroke-linecap="butt"/>
<line x1="999.8" y1="1830.0" x2="1076.5" y2="1830.0" stroke="#2e3b9f" stroke-width="2.6" stroke-linecap="butt"/>
<line x1="999.8" y1="1837.3" x2="1076.5" y2="1837.3" stroke="#2e3b9f" stroke-width="2.6" stroke-linecap="butt"/>
<circle cx="697.2" cy="1796.5" r="2.3" fill="#e41b2f"/>
<circle cx="708.9" cy="1796.5" r="2.3" fill="#e41b2f"/>
<circle cx="720.6" cy="1796.5" r="2.3" fill="#e41b2f"/>
<circle cx="732.3" cy="1796.5" r="2.3" fill="#e41b2f"/>
<circle cx="744.0" cy="1796.5" r="2.3" fill="#e41b2f"/>
<circle cx="755.7" cy="1796.5" r="2.3" fill="#e41b2f"/>
<circle cx="767.4" cy="1796.5" r="2.3" fill="#e41b2f"/>
<circle cx="779.1" cy="1796.5" r="2.3" fill="#e41b2f"/>
<circle cx="790.8" cy="1796.5" r="2.3" fill="#e41b2f"/>
<circle cx="802.5" cy="1796.5" r="2.3" fill="#e41b2f"/>
<circle cx="814.2" cy="1796.5" r="2.3" fill="#e41b2f"/>
<circle cx="825.9" cy="1796.5" r="2.3" fill="#e41b2f"/>
<circle cx="837.6" cy="1796.5" r="2.3" fill="#e41b2f"/>
<circle cx="849.3" cy="1796.5" r="2.3" fill="#e41b2f"/>
<circle cx="861.0" cy="1796.5" r="2.3" fill="#e41b2f"/>
<circle cx="872.7" cy="1796.5" r="2.3" fill="#e41b2f"/>
<circle cx="884.4" cy="1796.5" r="2.3" fill="#e41b2f"/>
<circle cx="896.1" cy="1796.5" r="2.3" fill="#e41b2f"/>
<circle cx="907.8" cy="1796.5" r="2.3" fill="#e41b2f"/>
<circle cx="919.5" cy="1796.5" r="2.3" fill="#e41b2f"/>
<circle cx="931.2" cy="1796.5" r="2.3" fill="#e41b2f"/>
<circle cx="942.9" cy="1796.5" r="2.3" fill="#e41b2f"/>
<circle cx="954.6" cy="1796.5" r="2.3" fill="#e41b2f"/>
<circle cx="966.3" cy="1796.5" r="2.3" fill="#e41b2f"/>
<circle cx="978.0" cy="1796.5" r="2.3" fill="#e41b2f"/>
<circle cx="989.7" cy="1796.5" r="2.3" fill="#e41b2f"/>
<circle cx="1001.4" cy="1796.5" r="2.3" fill="#e41b2f"/>
<circle cx="1013.1" cy="1796.5" r="2.3" fill="#e41b2f"/>
<circle cx="1024.8" cy="1796.5" r="2.3" fill="#e41b2f"/>
<circle cx="1036.5" cy="1796.5" r="2.3" fill="#e41b2f"/>
<circle cx="1048.2" cy="1796.5" r="2.3" fill="#e41b2f"/>
<circle cx="1059.9" cy="1796.5" r="2.3" fill="#e41b2f"/>
<circle cx="1071.5" cy="1796.5" r="2.3" fill="#e41b2f"/>
<circle cx="1083.2" cy="1796.5" r="2.3" fill="#e41b2f"/>
<circle cx="1094.9" cy="1796.5" r="2.3" fill="#e41b2f"/>
<circle cx="1106.6" cy="1796.5" r="2.3" fill="#e41b2f"/>
<circle cx="1118.3" cy="1796.5" r="2.3" fill="#e41b2f"/>
<circle cx="1130.0" cy="1796.5" r="2.3" fill="#e41b2f"/>
<circle cx="1141.7" cy="1796.5" r="2.3" fill="#e41b2f"/>
<circle cx="1153.4" cy="1796.5" r="2.3" fill="#e41b2f"/>
<circle cx="1165.1" cy="1796.5" r="2.3" fill="#e41b2f"/>
<circle cx="1176.8" cy="1796.5" r="2.3" fill="#e41b2f"/>
<circle cx="1188.5" cy="1796.5" r="2.3" fill="#e41b2f"/>
<text x="-0.90" y="27.25" font-size="34.72" font-weight="bold" fill="#000" text-anchor="start" textLength="23.73" lengthAdjust="spacingAndGlyphs">A</text>
<text x="117.30" y="60.80" font-size="34.65" font-weight="normal" fill="#858585" text-anchor="start" textLength="126.30" lengthAdjust="spacingAndGlyphs">Baseline</text>
<text x="384.15" y="60.05" font-size="36.44" font-weight="normal" fill="#858585" text-anchor="start" textLength="109.50" lengthAdjust="spacingAndGlyphs">Conc 1</text>
<text x="621.47" y="60.05" font-size="36.44" font-weight="normal" fill="#858585" text-anchor="start" textLength="115.73" lengthAdjust="spacingAndGlyphs">Conc 2</text>
<text x="857.32" y="61.00" font-size="35.29" font-weight="normal" fill="#858585" text-anchor="start" textLength="114.83" lengthAdjust="spacingAndGlyphs">Conc 3</text>
<text x="1094.80" y="61.00" font-size="35.29" font-weight="normal" fill="#858585" text-anchor="start" textLength="112.11" lengthAdjust="spacingAndGlyphs">Conc 4</text>
<text x="72.17" y="347.90" font-size="30.17" font-weight="normal" fill="#868686" text-anchor="start" textLength="225.77" lengthAdjust="spacingAndGlyphs">pH 6.5 + DMSO</text>
<text x="369.70" y="347.90" font-size="30.17" font-weight="normal" fill="#868686" text-anchor="start" textLength="225.84" lengthAdjust="spacingAndGlyphs">pH 7.3 + DMSO</text>
<text x="674.60" y="347.90" font-size="28.35" font-weight="normal" fill="#868686" text-anchor="start" textLength="228.63" lengthAdjust="spacingAndGlyphs">pH 7.3 + Cmpd</text>
<text x="990.43" y="347.90" font-size="28.35" font-weight="normal" fill="#868686" text-anchor="start" textLength="227.30" lengthAdjust="spacingAndGlyphs">pH 6.5 + Cmpd</text>
<text x="-2.25" y="851.05" font-size="30.44" font-weight="bold" fill="#000" text-anchor="start" textLength="26.43" lengthAdjust="spacingAndGlyphs">B</text>
<text x="134.45" y="1470.00" font-size="32.15" font-weight="bold" fill="#1a1a1a" text-anchor="start" textLength="43.32" lengthAdjust="spacingAndGlyphs">0.0</text>
<text x="134.45" y="1355.60" font-size="32.15" font-weight="bold" fill="#1a1a1a" text-anchor="start" textLength="43.32" lengthAdjust="spacingAndGlyphs">0.2</text>
<text x="134.45" y="1241.20" font-size="32.15" font-weight="bold" fill="#1a1a1a" text-anchor="start" textLength="41.52" lengthAdjust="spacingAndGlyphs">0.4</text>
<text x="134.00" y="1126.80" font-size="32.15" font-weight="bold" fill="#1a1a1a" text-anchor="start" textLength="42.42" lengthAdjust="spacingAndGlyphs">0.6</text>
<text x="134.00" y="1012.40" font-size="32.15" font-weight="bold" fill="#1a1a1a" text-anchor="start" textLength="42.42" lengthAdjust="spacingAndGlyphs">0.8</text>
<text x="135.88" y="898.00" font-size="32.15" font-weight="bold" fill="#1a1a1a" text-anchor="start" textLength="40.66" lengthAdjust="spacingAndGlyphs">1.0</text>
<text x="259.75" y="1502.60" font-size="29.98" font-weight="bold" fill="#1a1a1a" text-anchor="start" textLength="11.54" lengthAdjust="spacingAndGlyphs">1</text>
<text x="399.00" y="1502.60" font-size="29.98" font-weight="bold" fill="#1a1a1a" text-anchor="start" textLength="16.02" lengthAdjust="spacingAndGlyphs">2</text>
<text x="540.60" y="1502.60" font-size="29.98" font-weight="bold" fill="#1a1a1a" text-anchor="start" textLength="16.02" lengthAdjust="spacingAndGlyphs">3</text>
<text x="682.65" y="1502.60" font-size="29.98" font-weight="bold" fill="#1a1a1a" text-anchor="start" textLength="15.12" lengthAdjust="spacingAndGlyphs">4</text>
<text x="823.35" y="1502.60" font-size="29.98" font-weight="bold" fill="#1a1a1a" text-anchor="start" textLength="16.92" lengthAdjust="spacingAndGlyphs">5</text>
<text x="964.95" y="1502.60" font-size="29.98" font-weight="bold" fill="#1a1a1a" text-anchor="start" textLength="16.92" lengthAdjust="spacingAndGlyphs">6</text>
<text x="1106.55" y="1502.60" font-size="29.98" font-weight="bold" fill="#1a1a1a" text-anchor="start" textLength="16.92" lengthAdjust="spacingAndGlyphs">7</text>
<text x="475.00" y="1555.65" font-size="37.04" font-weight="bold" fill="#1a1a1a" text-anchor="start" textLength="431.55" lengthAdjust="spacingAndGlyphs">Stimulation # with pH 6.5</text>
<text x="262.93" y="1350.55" font-size="33.75" font-weight="normal" fill="#231f20" text-anchor="start" textLength="175.48" lengthAdjust="spacingAndGlyphs">0.1% DMSO</text>
<text x="261.75" y="1408.70" font-size="31.62" font-weight="normal" fill="#231f20" text-anchor="start" textLength="243.84" lengthAdjust="spacingAndGlyphs">30 &#956;M Benzamil</text>
<text x="-1.35" y="1669.25" font-size="31.00" font-weight="bold" fill="#000" text-anchor="start" textLength="24.63" lengthAdjust="spacingAndGlyphs">C</text>
<text x="156.23" y="1681.00" font-size="29.13" font-weight="bold" fill="#1a1a1a" text-anchor="start" textLength="15.95" lengthAdjust="spacingAndGlyphs">2</text>
<text x="156.23" y="1796.00" font-size="29.13" font-weight="bold" fill="#1a1a1a" text-anchor="start" textLength="15.95" lengthAdjust="spacingAndGlyphs">0</text>
<text x="148.08" y="1911.00" font-size="29.13" font-weight="bold" fill="#1a1a1a" text-anchor="start" textLength="24.07" lengthAdjust="spacingAndGlyphs">-2</text>
<text x="147.63" y="2026.00" font-size="29.13" font-weight="bold" fill="#1a1a1a" text-anchor="start" textLength="23.18" lengthAdjust="spacingAndGlyphs">-4</text>
<text x="147.63" y="2141.00" font-size="29.13" font-weight="bold" fill="#1a1a1a" text-anchor="start" textLength="23.18" lengthAdjust="spacingAndGlyphs">-6</text>
<text x="147.63" y="2256.00" font-size="29.13" font-weight="bold" fill="#1a1a1a" text-anchor="start" textLength="23.18" lengthAdjust="spacingAndGlyphs">-8</text>
<text x="0" y="0" font-size="36.00" font-weight="bold" fill="#231f20" text-anchor="middle" textLength="485.96" lengthAdjust="spacingAndGlyphs" transform="translate(91.60,1143.72) rotate(-90)">Normalised current stability</text>
<text x="0" y="0" font-size="32.36" font-weight="bold" fill="#1a1a1a" text-anchor="middle" textLength="352.84" lengthAdjust="spacingAndGlyphs" transform="translate(119.65,1939.62) rotate(-90)">Current Amplitude (nA)</text>
<text x="0" y="0" font-size="31.83" font-weight="bold" fill="#1a1a1a" text-anchor="end" transform="translate(347.54,2278.33) rotate(-45)">1 day 37&#176;C</text>
<text x="0" y="0" font-size="32.58" font-weight="bold" fill="#1a1a1a" text-anchor="end" transform="translate(582.03,2279.06) rotate(-45)">2 days 37&#176;C</text>
<text x="0" y="0" font-size="32.53" font-weight="bold" fill="#1a1a1a" text-anchor="end" transform="translate(815.18,2279.06) rotate(-45)">3 days at 37&#176;C</text>
<text x="0" y="0" font-size="32.44" font-weight="bold" fill="#1a1a1a" text-anchor="end" transform="translate(1048.85,2279.06) rotate(-45)">HEK 30&#176;C</text>
</svg>
</body></html>
